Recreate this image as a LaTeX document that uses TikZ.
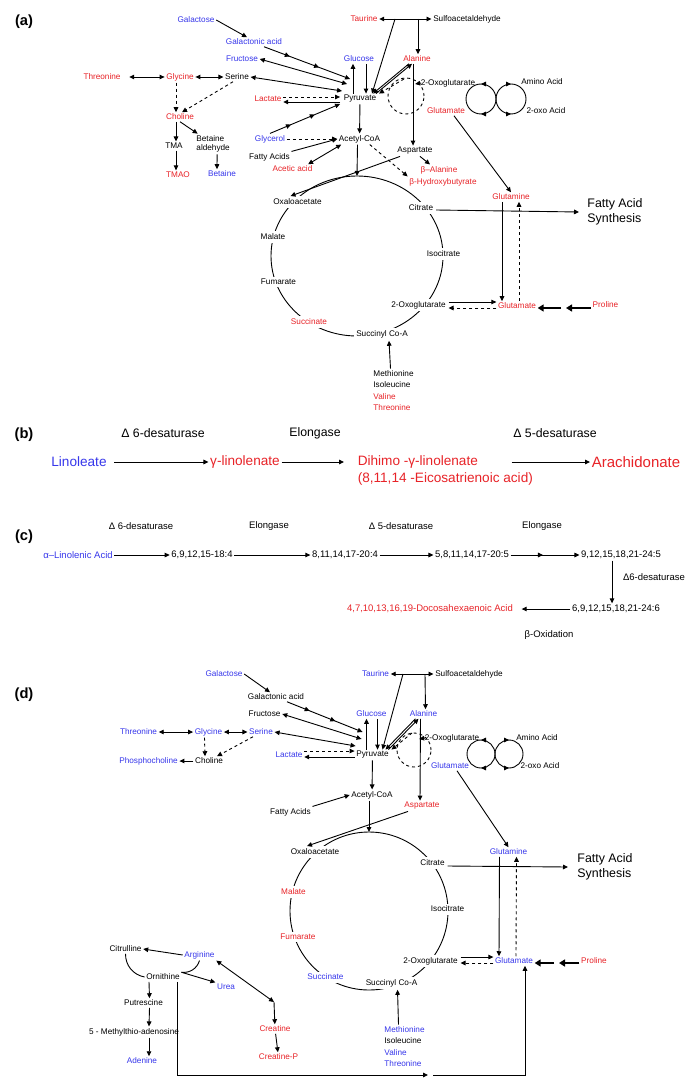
\documentclass[tikz,border=0pt]{standalone}
\usepackage{fontspec}
\setmainfont{Liberation Sans}
\usetikzlibrary{arrows.meta, decorations.markings}

\definecolor{rotmet}{RGB}{232,35,40}
\definecolor{blaumet}{RGB}{55,55,235}

\tikzset{
	>={Triangle[length=5pt,width=4.6pt]},
	txt/.style={font=\fontsize{8.2}{9.5}\selectfont, inner sep=1.3pt},
	rot/.style={txt, text=rotmet},
	blau/.style={txt, text=blaumet},
	zyk/.style={txt, fill=white, inner sep=2.5pt},
	gross/.style={font=\fontsize{12.4}{14.5}\selectfont, align=left, anchor=west, inner sep=0pt},
	panel/.style={font=\bfseries\fontsize{14.7}{17}\selectfont, inner sep=0pt},
	enz/.style={font=\fontsize{12.3}{14}\selectfont, inner sep=1.3pt},
	gb/.style={font=\fontsize{13.6}{16}\selectfont, inner sep=1.3pt},
	kl/.style={font=\fontsize{9.5}{11}\selectfont, inner sep=1.3pt},
	aliste/.style={txt, align=left, anchor=north west, font=\fontsize{8.2}{11.5}\selectfont},
	dick/.style={-{Triangle[length=6pt,width=7pt]}, line width=2.4pt},
	zweimitte/.style={postaction={decorate}, decoration={markings,
		mark=at position 0.3 with {\arrow{>}}, mark=at position 0.64 with {\arrow{>}}}},
	einmitte/.style={postaction={decorate}, decoration={markings,
		mark=at position #1 with {\arrow{>}}}},
	kreisli/.style={postaction={decorate}, decoration={markings,
		mark=at position 0.25 with {\arrow{>}}, mark=at position 0.75 with {\arrowreversed{>}}}},
	kreisre/.style={postaction={decorate}, decoration={markings,
		mark=at position 0.25 with {\arrowreversed{>}}, mark=at position 0.75 with {\arrow{>}}}}
}

\begin{document}
\begin{tikzpicture}[x=1pt, y=-1pt, line width=0.9pt]
			\useasboundingbox (0,0) rectangle (685,1091);
			\fill[white] (0,0) rectangle (685,1091);
			
			% ===== (a) =====
			\node[panel] (pa) at (24,22) {(a)};
			
			% Zucker, Aminosaeuren, Pyruvat
			\node[blau] (galac) at (196,20) {Galactose};
			\node[blau] (galsre) at (254,42) {Galactonic acid};
			\node[blau] (fruc) at (242,59) {Fructose};
			\node[blau] (gluc) at (359,59) {Glucose};
			\node[rot] (taur) at (364,19) {Taurine};
			\node[txt] (sulf) at (467,19) {Sulfoacetaldehyde};
			\node[rot] (ala) at (417,59) {Alanine};
			\node[rot] (thr) at (102,77) {Threonine};
			\node[rot] (gly) at (180,77) {Glycine};
			\node[txt] (ser) at (237,77) {Serine};
			\node[rot] (lac) at (268,99) {Lactate};
			\node[txt] (pyr) at (360,99) {Pyruvate};
			\node[txt] (oxg) at (448,83) {2-Oxoglutarate};
			\node[rot] (glu) at (446,111) {Glutamate};
			\node[txt] (amino) at (542,82) {Amino Acid};
			\node[txt] (oxo) at (546,111) {2-oxo Acid};
			\node[rot] (chol) at (180,117) {Choline};
			\node[txt] (tma) at (174,146) {TMA};
			\node[txt, align=left, anchor=west] (betald) at (194.7,144) {Betaine\\aldehyde};
			\node[rot] (tmao) at (178,175) {TMAO};
			\node[blau] (bet) at (222,174) {Betaine};
			\node[blau] (glyc) at (270,139) {Glycerol};
			\node[txt] (acoa) at (359.5,139) {Acetyl-CoA};
			\node[txt] (fa) at (269.5,157) {Fatty Acids};
			\node[rot] (acet) at (292.5,169) {Acetic acid};
			\node[txt] (asp) at (415,151) {Aspartate};
			\node[rot] (bala) at (439,170) {β–Alanine};
			\node[rot] (bhb) at (443,182) {β-Hydroxybutyrate};
			\node[rot] (glnm) at (511,197) {Glutamine};
			\node[gross] (fas) at (587,212) {Fatty Acid\\Synthesis};
			
			% Zitratzyklus
			\draw (357,256) ellipse [x radius=86pt, y radius=80pt];
			\coordinate (ztop) at (357,176);
			\node[zyk] (oaa) at (297.5,202) {Oxaloacetate};
			\node[zyk] (cit) at (421,208) {Citrate};
			\node[zyk] (mal) at (273,237) {Malate};
			\node[zyk] (iso) at (443.5,254) {Isocitrate};
			\node[zyk] (fum) at (278.5,282) {Fumarate};
			\node[zyk] (oxg2) at (418.5,305) {2-Oxoglutarate};
			\node[zyk, text=rotmet] (succ) at (309,322) {Succinate};
			\node[zyk] (sucoa) at (382,334) {Succinyl Co-A};
			\node[rot] (glut2) at (517,306) {Glutamate};
			\node[rot] (pro) at (605.5,305) {Proline};
			\node[aliste] (aas) at (371.7,368.7) {Methionine\\Isoleucine\\\textcolor{rotmet}{Valine}\\\textcolor{rotmet}{Threonine}};
			
			% Pfeile links
			\draw[<->, shorten <=7pt] (thr) -- (gly);
			\draw[<->] (gly) -- (ser);
			\draw[->, dashed] ([xshift=-4pt]gly.south) -- ([xshift=-4pt]chol.north);
			\draw[->, dashed] ([xshift=-4pt]ser.south) -- ([xshift=2pt]chol.north);
			\draw[->] ([xshift=-4pt]chol.south) -- ([xshift=2pt]tma.north);
			\draw[->] ([xshift=2pt]tma.south) -- ([xshift=-2pt]tmao.north);
			\draw[->] (chol.south) -- ([xshift=3pt]betald.north west);
			\draw[->] ([xshift=4pt]betald.south) -- ([xshift=-5pt]bet.north);
			
			% Pfeile zum Pyruvat
			\draw[->] (galac.east) -- ([xshift=-7pt]galsre.north);
			\draw[->, zweimitte] ([xshift=10pt]galsre.south) -- ([xshift=8pt,yshift=20pt]pyr.west);
			\draw[<->] (fruc.east) -- ([xshift=5pt,yshift=15pt]pyr.west);
			\draw[<->] (ser.east) -- ([yshift=8pt]pyr.west);
			\draw[->, dashed] ([yshift=2pt]lac.east) -- ([xshift=-2pt,yshift=2pt]pyr.west);
			\draw[->] ([xshift=-2pt,yshift=-3pt]pyr.west) -- ([yshift=-3pt]lac.east);
			\draw[->, zweimitte] (glyc.north) -- ([xshift=-2pt,yshift=-5pt]pyr.west);
			\draw[->] ([xshift=-7pt]pyr.north) -- ([xshift=-6pt]gluc.south);
			\draw[->] ([xshift=7pt]gluc.south) -- ([xshift=6pt]pyr.north);
			
			% Taurin
			\draw[<->] (taur.east) -- (sulf.west);
			\coordinate (tj1) at (395,19);
			\coordinate (tj2) at (418,19);
			\draw[->] (tj1) -- ([xshift=12pt]pyr.north);
			\draw[->] (tj2) -- ([xshift=1pt]ala.north);
			
			% Alanin + Transaminierung
			\draw[->] ([xshift=-8pt]ala.south) -- ([xshift=13pt]pyr.north);
			\draw[->] ([xshift=16pt]pyr.north) -- ([xshift=-5pt]ala.south);
			\coordinate (dk) at (406,96);
			\coordinate (dk1) at (404,79);
			\draw[dashed] (dk) circle [radius=18pt];
			\draw[->, dashed] (dk1) -- ([xshift=19pt]pyr.north);
			\draw[->] ([xshift=2pt]oxg.west) -- ++(-6,1);
			\draw[->] ([xshift=-4pt]ala.south) -- ([xshift=-2pt]asp.north);
			\coordinate (tk1) at (481,99);
			\coordinate (tk2) at (511,99);
			\draw[kreisli] (tk1) circle [radius=15pt];
			\draw[kreisre] (tk2) circle [radius=15pt];
			\draw[->] ([xshift=8pt]glu.south) -- (glnm.north);
			
			% Acetyl-CoA
			\draw[->] (pyr) -- (acoa);
			\draw[->] ([xshift=-2pt]acoa.south) -- (ztop);
			\draw[->, dashed] (glyc) -- (acoa);
			\draw[->] (fa.north east) -- (acoa.west);
			\draw[<->] ([xshift=-6pt]acet.north east) -- ([xshift=4pt]acoa.south west);
			\draw[->, dashed] ([xshift=-12pt]acoa.south east) -- (bhb.north west);
			\draw[->] ([xshift=5pt]asp.south) -- ([xshift=-9pt]bala.north);
			\draw[->] ([xshift=-15pt]asp.south) -- ([xshift=-7pt]oaa.north);
			
			% Glutamin / Glutamat
			\draw[->] ([yshift=-2pt]cit.east) -- ([xshift=-8pt]fas.west);
			\draw[->] ([xshift=-9pt]glnm.south) -- ([xshift=-15pt]glut2.north);
			\draw[->, dashed] ([xshift=2pt]glut2.north) -- ([xshift=8pt]glnm.south);
			\draw[->] ([yshift=3pt]oxg2.east) -- ([yshift=4pt]glut2.west);
			\draw[->, dashed] ([yshift=-2pt]glut2.west) -- ([yshift=-3pt]oxg2.east);
			\coordinate (pm1) at (566,308);
			\coordinate (pm2) at (561,308);
			\draw[dick] ([yshift=-3pt]pro.west) -- (pm1);
			\draw[dick] (pm2) -- ([yshift=-2pt]glut2.east);
			\draw[->] ([xshift=-3pt]aas.north) -- ([xshift=7pt]sucoa.south);
			
			% ===== (b) =====
			\node[panel] (pb) at (24,435) {(b)};
			\node[enz] (b1) at (163,433) {Δ 6-desaturase};
			\node[enz] (b2) at (315,433) {Elongase};
			\node[enz] (b3) at (555,433) {Δ 5-desaturase};
			\node[gb, text=blaumet] (lin) at (79,462) {Linoleate};
			\node[gb, text=rotmet] (glin) at (245,462) {γ-linolenate};
			\node[gb, text=rotmet, anchor=west] (dgla) at (356,462) {Dihimo -γ-linolenate};
			\node[gb, text=rotmet, anchor=west] (eico) at (356,479) {(8,11,14 -Eicosatrienoic acid)};
			\node[gb, text=rotmet, font=\fontsize{15}{17}\selectfont] (ara) at (636,462) {Arachidonate};
			\draw[->, shorten <=6pt] (lin) -- (glin);
			\draw[->, shorten >=12pt] (glin) -- (dgla);
			\draw[->, shorten <=32pt] (dgla) -- (ara);
			
			% ===== (c) =====
			\node[panel] (pc) at (24,537) {(c)};
			\node[kl] (c6d) at (141,526) {Δ 6-desaturase};
			\node[kl] (cel1) at (269,526) {Elongase};
			\node[kl] (c5d) at (401,526) {Δ 5-desaturase};
			\node[kl] (cel2) at (542,526) {Elongase};
			\node[kl, text=blaumet] (ala3) at (78,555) {α–Linolenic Acid};
			\node[kl] (c1) at (202,555) {6,9,12,15-18:4};
			\node[kl] (c2) at (345,555) {8,11,14,17-20:4};
			\node[kl] (c3) at (472,555) {5,8,11,14,17-20:5};
			\node[kl] (c4) at (621,555) {9,12,15,18,21-24:5};
			\node[kl] (cd6) at (654,577) {Δ6-desaturase};
			\node[kl] (c5) at (616,609) {6,9,12,15,18,21-24:6};
			\node[kl, text=rotmet] (dha) at (430,609) {4,7,10,13,16,19-Docosahexaenoic Acid};
			\node[kl] (box) at (549,635) {β-Oxidation};
			\draw[->] (ala3) -- (c1);
			\draw[->] (c1) -- (c2);
			\draw[->] (c2) -- (c3);
			\draw[->, einmitte=0.47] (c3) -- (c4);
			\draw[->] ([xshift=-9pt]c4.south) -- ([xshift=-4pt]c5.north);
			\draw[->, shorten >=7pt] (c5) -- (dha);
			
			% ===== (d) =====
			\node[panel] (pd) at (24,695) {(d)};
			
			% Zucker, Aminosaeuren, Pyruvat
			\node[blau] (galac4) at (224,674) {Galactose};
			\node[txt] (galsre4) at (276,697) {Galactonic acid};
			\node[txt] (fruc4) at (264.5,714) {Fructose};
			\node[blau] (gluc4) at (371.5,714) {Glucose};
			\node[blau] (taur4) at (375.5,674) {Taurine};
			\node[txt] (sulf4) at (469,674) {Sulfoacetaldehyde};
			\node[blau] (ala4) at (423.5,714) {Alanine};
			\node[blau] (thr4) at (138.5,732) {Threonine};
			\node[blau] (gly4) at (208.5,732) {Glycine};
			\node[blau] (ser4) at (261,732) {Serine};
			\node[txt] (chol4) at (209,761) {Choline};
			\node[blau] (phos4) at (148.5,761) {Phosphocholine};
			\node[blau] (lac4) at (289,755) {Lactate};
			\node[txt] (pyr4) at (372.5,755) {Pyruvate};
			\node[txt] (oxg4) at (452,738) {2-Oxoglutarate};
			\node[blau] (glu4) at (450,766) {Glutamate};
			\node[txt] (amino4) at (537,738) {Amino Acid};
			\node[txt] (oxo4) at (540,766) {2-oxo Acid};
			\node[txt] (acoa4) at (372,795) {Acetyl-CoA};
			\node[txt] (fa4) at (290.5,812) {Fatty Acids};
			\node[rot] (asp4) at (422,806) {Aspartate};
			\node[blau] (glnm4) at (508.5,852) {Glutamine};
			\node[gross] (fas4) at (577,867) {Fatty Acid\\Synthesis};
			
			% Zitratzyklus
			\draw (369,911) circle [radius=79pt];
			\coordinate (ztop4) at (369,832);
			\node[zyk] (oaa4) at (315,852) {Oxaloacetate};
			\node[zyk] (cit4) at (432.5,863) {Citrate};
			\node[zyk, text=rotmet] (mal4) at (293.5,892) {Malate};
			\node[zyk] (iso4) at (447.5,909) {Isocitrate};
			\node[zyk, text=rotmet] (fum4) at (298,937) {Fumarate};
			\node[zyk] (oxg24) at (430.5,961) {2-Oxoglutarate};
			\node[zyk, text=blaumet] (succ4) at (325.5,977) {Succinate};
			\node[zyk] (sucoa4) at (391.5,983) {Succinyl Co-A};
			\node[blau] (glut24) at (514,961) {Glutamate};
			\node[rot] (pro4) at (594,961) {Proline};
			\node[aliste] (aas4) at (382.7,1024.7) {\textcolor{blaumet}{Methionine}\\Isoleucine\\\textcolor{blaumet}{Valine}\\\textcolor{blaumet}{Threonine}};
			
			% Harnstoffzyklus + Kreatin
			\node[txt] (citr) at (125.5,949) {Citrulline};
			\node[blau] (arg) at (199.5,955) {Arginine};
			\node[txt] (orn) at (163,977) {Ornithine};
			\node[blau] (urea) at (226,987) {Urea};
			\node[rot] (crea) at (275,1029) {Creatine};
			\node[rot] (creap) at (278.5,1057) {Creatine-P};
			\node[txt] (put) at (143.5,1003) {Putrescine};
			\node[txt] (mta) at (134,1032) {5 - Methylthio-adenosine};
			\node[blau] (aden) at (142,1061) {Adenine};
			
			% Pfeile links
			\draw[<->] (thr4) -- (gly4);
			\draw[<->] (gly4) -- (ser4);
			\draw[->, dashed] ([xshift=-4pt]gly4.south) -- ([xshift=-4pt]chol4.north);
			\draw[->, dashed] ([xshift=-8pt]ser4.south) -- ([xshift=8pt]chol4.north);
			\draw[->] (chol4) -- (phos4);
			
			% Pfeile zum Pyruvat
			\draw[->] (galac4.east) -- ([xshift=-6pt]galsre4.north);
			\draw[->, zweimitte] ([xshift=11pt]galsre4.south) -- ([xshift=8pt,yshift=23pt]pyr4.west);
			\draw[<->] (fruc4.east) -- ([xshift=7pt,yshift=16pt]pyr4.west);
			\draw[<->] (ser4.east) -- ([xshift=1pt,yshift=9pt]pyr4.west);
			\draw[->, dashed] ([yshift=4pt]lac4.east) -- ([yshift=4pt]pyr4.west);
			\draw[->] ([yshift=-2pt]pyr4.west) -- ([yshift=-2pt]lac4.east);
			\draw[->] ([xshift=-6pt]pyr4.north) -- ([xshift=-5pt]gluc4.south);
			\draw[->] ([xshift=6pt]gluc4.south) -- ([xshift=5pt]pyr4.north);
			
			% Taurin
			\draw[<->] (taur4.east) -- (sulf4.west);
			\coordinate (tj14) at (403,674);
			\coordinate (tj24) at (425,674);
			\draw[->] (tj14) -- ([xshift=10pt]pyr4.north);
			\draw[->] (tj24) -- ([xshift=2pt]ala4.north);
			
			% Alanin + Transaminierung
			\draw[->] ([xshift=-8pt]ala4.south) -- ([xshift=13pt]pyr4.north);
			\draw[->] ([xshift=16pt]pyr4.north) -- ([xshift=-5pt]ala4.south);
			\coordinate (dk4) at (414,750);
			\coordinate (dk14) at (412,733);
			\draw[dashed] (dk4) circle [radius=17pt];
			\draw[->, dashed] (dk14) -- ([xshift=19pt]pyr4.north);
			\draw[->] ([xshift=2pt]oxg4.west) -- ++(-6,1);
			\draw[->] ([xshift=-3pt]ala4.south) -- ([xshift=-2pt]asp4.north);
			\coordinate (tk14) at (481,754);
			\coordinate (tk24) at (509,754);
			\draw[kreisli] (tk14) circle [radius=14pt];
			\draw[kreisre] (tk24) circle [radius=14pt];
			\draw[->] ([xshift=7pt]glu4.south) -- (glnm4.north);
			
			% Acetyl-CoA
			\draw[->] (pyr4) -- (acoa4);
			\draw[->] ([xshift=-3pt]acoa4.south) -- (ztop4);
			\draw[->] (fa4.north east) -- (acoa4.west);
			\draw[->] ([xshift=-14pt]asp4.south) -- ([xshift=-8pt]oaa4.north);
			
			% Glutamin / Glutamat
			\draw[->] ([yshift=-3pt]cit4.east) -- ([xshift=-9pt]fas4.west);
			\draw[->] ([xshift=-9pt]glnm4.south) -- ([xshift=-15pt]glut24.north);
			\draw[->, dashed] ([xshift=2pt]glut24.north) -- ([xshift=8pt]glnm4.south);
			\draw[->] ([yshift=4pt]oxg24.east) -- ([yshift=4pt]glut24.west);
			\draw[->, dashed] ([yshift=-2pt]glut24.west) -- ([yshift=-2pt]oxg24.east);
			\coordinate (pm14) at (559,963);
			\coordinate (pm24) at (554,963);
			\draw[dick] ([yshift=-2pt]pro4.west) -- (pm14);
			\draw[dick] (pm24) -- ([yshift=-2pt]glut24.east);
			\draw[->] ([xshift=-6pt]aas4.north) -- ([xshift=6pt]sucoa4.south);
			
			% Harnstoffzyklus
			\draw[->] (arg.west) -- (citr.east);
			\draw (citr.south) to[bend right=40] (orn.west);
			\draw (orn.north east) to[bend right=40] (arg.south);
			\draw[->] (orn.north east) -- (urea.north west);
			\coordinate (knick) at (274,1002);
			\draw[<->] (arg.south east) -- (knick);
			\draw[->] (knick) -- (crea);
			\draw[->] (crea) -- (creap);
			\draw[->] ([xshift=-14pt]orn.south) -- ([xshift=6pt]put.north);
			\draw[->] ([xshift=6pt]put.south) -- ([xshift=15pt]mta.north);
			\draw[->] ([xshift=15pt]mta.south) -- ([xshift=7pt]aden.north);
			
			% Ornithin -> Glutamat
			\coordinate (lpf) at (428,1075);
			\coordinate (lpf2) at (433,1075);
			\draw[->] ([xshift=14pt]orn.south) |- (lpf);
			\draw[->] (lpf2) -| ([xshift=11pt]glut24.south);
\end{tikzpicture}
\end{document}
